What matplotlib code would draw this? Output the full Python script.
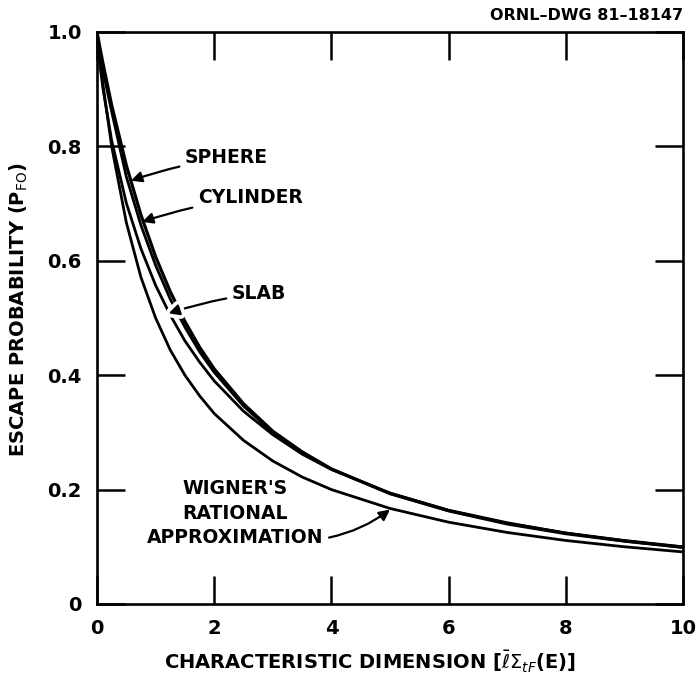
import matplotlib
matplotlib.use("Agg")
import matplotlib.pyplot as plt
import matplotlib.patheffects as pe

plt.rcParams['font.family'] = ['DejaVu Sans']
plt.rcParams['mathtext.fontset'] = 'dejavusans'

# Data
x_vals = [0, 0.05, 0.1, 0.25, 0.5, 0.75, 1.0, 1.25, 1.5, 1.75, 2.0, 2.5, 3.0, 3.5, 4.0, 5.0, 6.0, 7.0, 8.0, 9.0, 10.0]
sphere = [1.0, 0.972, 0.946, 0.872, 0.767, 0.680, 0.607, 0.546, 0.494, 0.449, 0.411, 0.350, 0.302, 0.266, 0.236, 0.193, 0.163, 0.140, 0.123, 0.110, 0.099]
cylinder = [1.0, 0.962, 0.933, 0.861, 0.747, 0.662, 0.592, 0.533, 0.484, 0.441, 0.405, 0.346, 0.300, 0.265, 0.236, 0.193, 0.163, 0.141, 0.124, 0.110, 0.099]
slab = [1.0, 0.942, 0.902, 0.810, 0.701, 0.621, 0.557, 0.505, 0.460, 0.423, 0.390, 0.337, 0.296, 0.262, 0.235, 0.194, 0.164, 0.142, 0.124, 0.111, 0.100]
wigner = [1.0, 0.952, 0.909, 0.800, 0.667, 0.571, 0.500, 0.444, 0.400, 0.364, 0.333, 0.286, 0.250, 0.222, 0.200, 0.167, 0.143, 0.125, 0.111, 0.100, 0.091]

x_ticks = [0, 2, 4, 6, 8, 10]
x_ticklabels = ['0', '2', '4', '6', '8', '10']
y_ticks = [0, 0.2, 0.4, 0.6, 0.8, 1.0]
y_ticklabels = ['0', '0.2', '0.4', '0.6', '0.8', '1.0']

fig = plt.figure(figsize=(7.0, 6.79), dpi=100)
ax = fig.add_axes([0.1386, 0.1105, 0.8371, 0.8424])

lw = 2.0
ax.plot(x_vals, wigner, color='black', lw=lw, solid_capstyle='round')
ax.plot(x_vals, slab, color='black', lw=lw, solid_capstyle='round')
ax.plot(x_vals, cylinder, color='black', lw=lw, solid_capstyle='round')
ax.plot(x_vals, sphere, color='black', lw=2.3, solid_capstyle='round')

ax.set_xlim(0, 10)
ax.set_ylim(0, 1.0)
ax.set_xticks(x_ticks)
ax.set_xticklabels(x_ticklabels)
ax.set_yticks(y_ticks)
ax.set_yticklabels(y_ticklabels)

for s in ax.spines.values():
    s.set_linewidth(1.9)
ax.tick_params(direction='in', length=20, width=1.8, top=True, right=True,
               labelsize=14, pad=11)
for lab in ax.get_xticklabels() + ax.get_yticklabels():
    lab.set_fontweight('bold')

ax.set_xlabel(r'CHARACTERISTIC DIMENSION [$\bar{\ell}\Sigma_{tF}$(E)]',
              fontsize=14, fontweight='bold')
ax.set_ylabel(r'ESCAPE PROBABILITY (P$_{\mathrm{FO}}$)', fontsize=14,
              fontweight='bold')
ax.xaxis.set_label_coords(0.466, -0.079)
ax.yaxis.set_label_coords(-0.115, 0.514)

fig.text(0.976, 0.977, 'ORNL–DWG 81–18147', ha='right', va='center',
         fontsize=11.5, fontweight='bold')

arrow_kw = dict(arrowstyle='-|>', color='black', lw=1.6, mutation_scale=16,
                shrinkA=2, shrinkB=0)
txt_kw = dict(fontsize=13.5, fontweight='bold', va='center', ha='left')
gap = [pe.Stroke(linewidth=7, foreground='white'), pe.Normal()]

ax.annotate('SPHERE', xy=(0.58, 0.74), xytext=(1.50, 0.78),
            arrowprops=dict(connectionstyle='arc3,rad=0.05', **arrow_kw), **txt_kw)
ax.annotate('CYLINDER', xy=(0.77, 0.668), xytext=(1.72, 0.711),
            arrowprops=dict(connectionstyle='arc3,rad=0.05', **arrow_kw), **txt_kw)
ann = ax.annotate('SLAB', xy=(1.22, 0.508), xytext=(2.30, 0.543),
                  arrowprops=dict(connectionstyle='arc3,rad=0.05', **arrow_kw), **txt_kw)
ann.arrow_patch.set_path_effects(gap)
ax.annotate("WIGNER'S\nRATIONAL\nAPPROXIMATION", xy=(5.0, 0.165), xytext=(2.36, 0.159),
            fontsize=13.5, fontweight='bold', ha='center', va='center',
            linespacing=1.35,
            arrowprops=dict(connectionstyle='arc3,rad=0.12', relpos=(1.0, 0.12),
                            **arrow_kw))

fig.savefig('out.png', dpi=100)
